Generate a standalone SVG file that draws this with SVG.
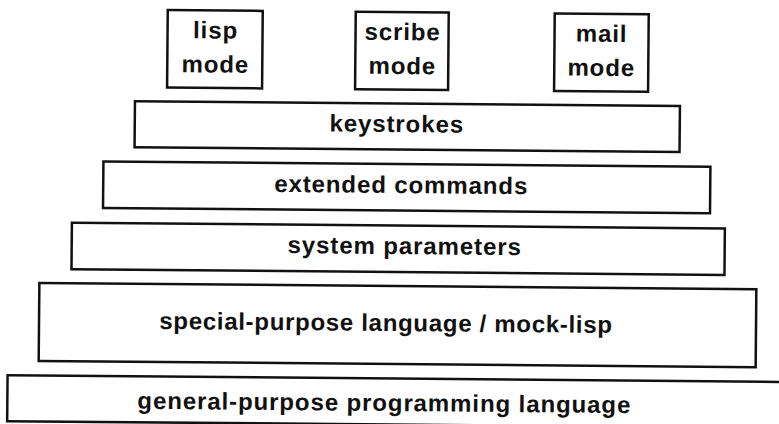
<svg xmlns="http://www.w3.org/2000/svg" width="779" height="424" viewBox="0 0 779 424">
  <style>
    .box { fill: #ffffff; stroke: #111111; stroke-width: 2.5; }
    .lbl { font-family: "Liberation Sans", Arial, sans-serif; font-weight: bold; font-size: 24px; letter-spacing: 0.9px; fill: #111111; text-anchor: middle; }
  </style>
  <rect x="0" y="0" width="779" height="424" fill="#ffffff"/>
  <g transform="rotate(0.5 389 212)">
    <g id="connectors"></g>
    <g id="lisp-mode">
      <rect class="box" x="166" y="12" width="95" height="77.5"/>
      <text class="lbl" x="214" y="40">lisp</text>
      <text class="lbl" x="214" y="74">mode</text>
    </g>
    <g id="scribe-mode">
      <rect class="box" x="354" y="12" width="93" height="77.5"/>
      <text class="lbl" x="401" y="40">scribe</text>
      <text class="lbl" x="401" y="74">mode</text>
    </g>
    <g id="mail-mode">
      <rect class="box" x="553" y="12" width="94" height="77.5"/>
      <text class="lbl" x="600" y="40">mail</text>
      <text class="lbl" x="600" y="74">mode</text>
    </g>
    <g id="keystrokes">
      <rect class="box" x="134" y="103.5" width="545" height="46"/>
      <text class="lbl" x="396" y="132">keystrokes</text>
    </g>
    <g id="extended-commands">
      <rect class="box" x="103" y="164" width="607" height="46.5"/>
      <text class="lbl" x="401" y="193">extended commands</text>
    </g>
    <g id="system-parameters">
      <rect class="box" x="72" y="225.5" width="653" height="46.5"/>
      <text class="lbl" x="405" y="254">system parameters</text>
    </g>
    <g id="special-purpose-language">
      <rect class="box" x="40" y="286" width="717" height="78"/>
      <text class="lbl" x="387" y="331" style="letter-spacing:0.7px">special-purpose language / mock-lisp</text>
    </g>
    <g id="general-purpose-language">
      <rect class="box" x="9" y="378.5" width="800" height="46"/>
      <text class="lbl" x="386" y="411">general-purpose programming language</text>
    </g>
  </g>
</svg>
